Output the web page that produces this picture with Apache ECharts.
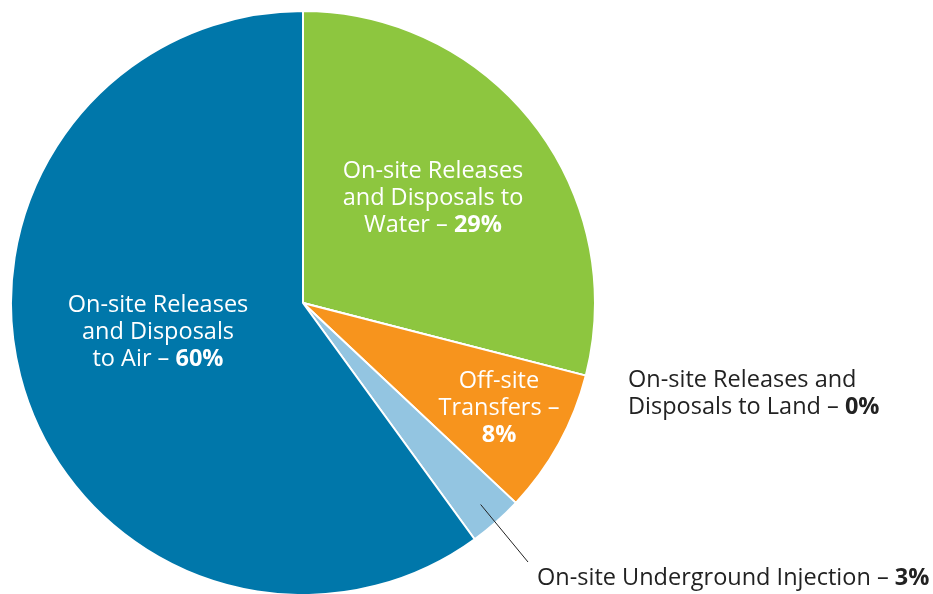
<!DOCTYPE html>
<html>
<head>
<meta charset="utf-8">
<script src="https://cdn.jsdelivr.net/npm/echarts@6/dist/echarts.min.js"></script>
<style>
  html, body { margin: 0; padding: 0; background: #fff; }
  #chart { width: 933px; height: 594px; }
</style>
</head>
<body>
<div id="chart"></div>
<script>
// Toxic release shares by disposal path (percent of total)
const categories = [
  'On-site Releases\nand Disposals to\nWater',
  'On-site Releases and\nDisposals to Land',
  'Off-site\nTransfers –\n',
  'On-site Underground Injection',
  'On-site Releases\nand Disposals\nto Air'
];
const shares = [29, 0, 8, 3, 60];
const colors = ['#8DC63F', '#8DC63F', '#F7941D', '#93C5E1', '#0077AA'];

const CX = 303, CY = 303, R = 292;
const FONT = 'Open Sans';
const FS = 23.5;

const chart = echarts.init(document.getElementById('chart'), null, { renderer: 'canvas' });

function labelText(name, value) {
  // last line carries the bold percentage
  const lines = name.split('\n');
  const last = lines.length - 1;
  return lines.map(function (ln, i) {
    if (i < last) return '{n|' + ln + '}';
    if (ln === '') return '{b|' + value + '%}';
    return '{n|' + ln + ' – }{b|' + value + '%}';
  }).join('\n');
}

function richFor(c) {
  return {
    n: { color: c, fontSize: FS, fontFamily: FONT, lineHeight: 27 },
    b: { color: c, fontSize: FS, fontFamily: FONT, fontWeight: 'bold', lineHeight: 27 }
  };
}

const labelColors = ['#ffffff', '#222222', '#ffffff', '#222222', '#ffffff'];

// label anchor positions
const labelSpots = [
  { x: 433, y: 198, align: 'center' },
  { x: 628, y: 394, align: 'left' },
  { x: 499, y: 408, align: 'center' },
  { x: 537, y: 578, align: 'left' },
  { x: 158, y: 332, align: 'center' }
];

function placeLabel(p) {
  const s = labelSpots[p.dataIndex];
  return { x: s.x, y: s.y, align: s.align, verticalAlign: 'middle' };
}

// leader line: from inside the slice (on the inner ring) to the label's upper-left corner
function placeLeaderLabel(p) {
  const out = placeLabel(p);
  const s = labelSpots[p.dataIndex];
  let before = 0;
  for (let k = 0; k < p.dataIndex; k++) before += shares[k];
  const mid = (before + shares[p.dataIndex] / 2) / 100 * 2 * Math.PI;
  const r0 = R * 0.92;
  const start = [CX + r0 * Math.sin(mid), CY - r0 * Math.cos(mid)];
  const end = [s.x - 9, s.y - 16];
  out.labelLinePoints = [start, end, end];
  return out;
}

const sliceData = shares.map(function (v, i) {
  return {
    name: categories[i],
    value: v,
    itemStyle: { color: colors[i] },
    label: { show: i !== 3, position: i === 1 ? 'outside' : 'inside', rich: richFor(labelColors[i]) },
    labelLine: { show: false }
  };
});

// transparent overlay ring that carries the injection label and its leader line
const leaderData = shares.map(function (v, i) {
  return {
    name: categories[i],
    value: v,
    label: { show: i === 3, position: 'outside', rich: richFor(labelColors[i]) },
    labelLine: { show: i === 3, length: 10, length2: 10, lineStyle: { color: '#222', width: 1 } }
  };
});

const common = {
  type: 'pie',
  center: [CX, CY],
  startAngle: 90,
  clockwise: true,
  avoidLabelOverlap: false,
  stillShowZeroSum: true,
  label: {
    formatter: function (p) { return labelText(p.name, p.value); },
    align: 'center'
  },
  emphasis: { disabled: true }
};

chart.setOption({
  animation: false,
  series: [
    Object.assign({}, common, {
      z: 2,
      radius: [0, R],
      itemStyle: { borderColor: '#ffffff', borderWidth: 2 },
      labelLayout: placeLabel,
      data: sliceData
    }),
    Object.assign({}, common, {
      z: 6,
      radius: [0, R * 0.92],
      silent: true,
      itemStyle: { color: 'rgba(0,0,0,0)', borderWidth: 0 },
      labelLayout: placeLeaderLabel,
      data: leaderData
    })
  ]
});
</script>
</body>
</html>
